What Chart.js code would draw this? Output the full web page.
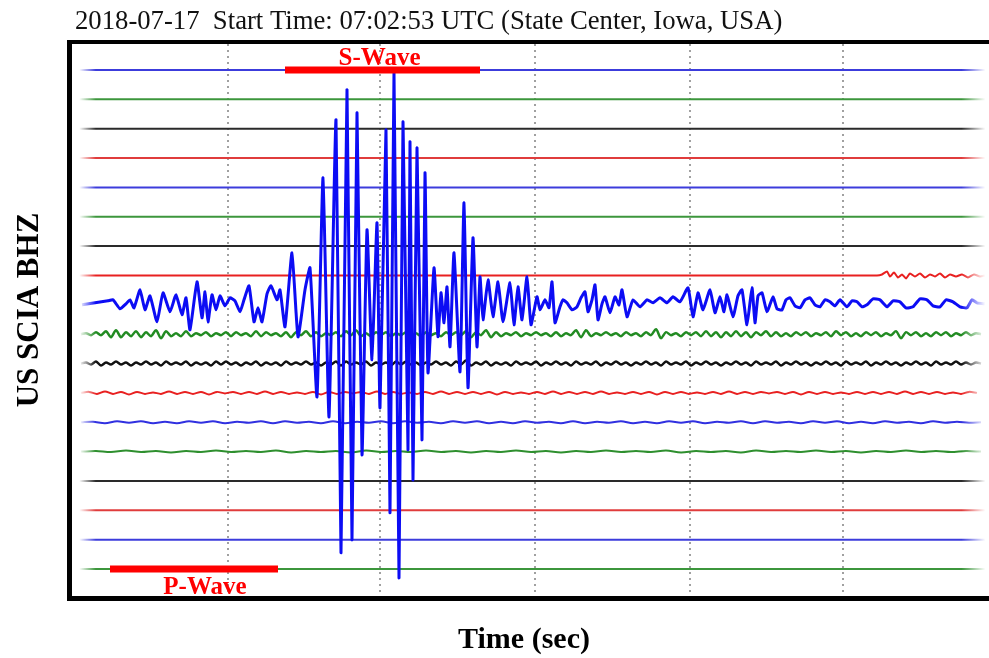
<!DOCTYPE html>
<html>
<head>
<meta charset="utf-8">
<script src="https://cdn.jsdelivr.net/npm/chart.js@4/dist/chart.umd.min.js"></script>
<style>
  html, body { margin: 0; padding: 0; background: #fff; }
  #wrap { width: 989px; height: 658px; }
</style>
</head>
<body>
<div id="wrap"><canvas id="seis" width="989" height="658"></canvas></div>
<script>
// trace spacing, in amplitude units (one unit ~ one pixel)
const GAP = 29.35;
const TRACE_COUNT = 18;

const titleText = '2018-07-17  Start Time: 07:02:53 UTC (State Center, Iowa, USA)';
const stationLabel = 'US SCIA BHZ';
const timeLabel = 'Time (sec)';

// dotted time marks
const gridTimes = [156, 308, 463, 618, 771];

// phase picks: [start, end]
const sWave = [213, 408];
const pWave = [38, 206];

// main BHZ trace (row 8), [time, amplitude]
const mainTrace = [
	[10, 0], [23, 2], [36, 4], [41, 5], [48, -4], [54, 1], [58, 5], [62, -3], [68, 15], [73, -5],
	[78, 9], [85, -17], [91, 12], [98, -7], [104, 10], [110, -10], [114, 7], [118, -25], [125, 23], [130, -13],
	[133, 13], [136, -17], [140, 10], [144, -5], [148, 9], [153, -1], [158, 7], [163, 4], [168, -7], [172, 5],
	[177, 19], [182, -17], [186, -3], [190, -17], [195, 11], [199, 19], [205, 5], [208, 15], [213, -22], [220, 52],
	[226, -32], [233, 15], [238, 37], [245, -92], [251, 127], [257, -112], [264, 185], [269, -248], [275, 215], [280, -235],
	[285, 192], [290, -150], [295, 75], [300, -55], [305, 82], [308, -103], [314, 175], [318, -208], [322, 232], [327, -273],
	[331, 183], [336, -145], [338, 163], [341, -175], [345, 157], [350, -135], [353, 132], [356, -68], [362, 37], [366, -32],
	[369, 12], [372, -18], [375, 18], [378, -42], [382, 52], [388, -67], [392, 102], [396, -83], [401, 67], [405, -42],
	[408, 28], [411, -15], [416, 25], [421, -12], [426, 23], [431, -17], [438, 22], [442, -20], [446, 18], [450, -15],
	[455, 28], [459, -20], [465, 8], [468, -5], [473, 5], [477, -3], [480, 23], [483, -18], [488, -2], [491, 5],
	[495, 2], [500, -5], [505, -2], [509, 7], [513, 13], [516, -7], [520, 5], [523, 20], [526, -15], [530, 1],
	[533, 8], [538, -8], [543, 8], [547, 0], [550, 15], [555, -12], [561, 5], [568, -2], [575, 5], [581, 2],
	[588, 7], [595, 2], [601, 8], [608, 3], [616, 17], [621, -12], [626, 12], [631, -5], [638, 15], [643, -8],
	[648, 8], [652, -7], [655, 10], [661, -12], [666, 9], [670, 15], [675, -20], [680, 17], [683, -18], [686, 9],
	[690, 12], [695, -7], [701, 8], [705, -4], [710, -5], [714, 5], [718, 7], [723, -1], [728, -3], [733, 5],
	[738, 7], [743, 0], [748, -2], [753, 5], [758, 3], [763, -1], [768, 5], [775, -2], [780, 4], [785, 3],
	[790, -2], [795, 0], [801, 6], [808, 5], [815, -2], [821, 4], [828, 3], [834, -3], [841, -2], [848, 6],
	[855, 5], [861, -1], [868, -2], [874, 5], [881, 3], [888, -2], [895, -3], [900, 5], [905, 2], [913, 1]
];

// red row 7: flat, then noise near the end
const redTail = [
	[6, 0], [805, 0], [810, 1], [815, 4], [818, -1], [822, 3], [826, -2], [830, 1], [834, -3], [838, 2],
	[843, -1], [848, 2], [853, -2], [858, 1], [863, -1], [868, 2], [873, -2], [878, 1], [884, -1], [890, 1],
	[896, -2], [902, 1], [908, -1], [913, 0]
];

// noise rows, sampled every 5 (green, black), 8 (red), 12 (blue), 15 (green)
const greenNoise = [
	0, 1, -1, 2, -1, 3, -3, 4, -3, 2, -2, 3, -3, 2, -2, 4, -4, 3, -2, 1,
	-2, 3, -2, 1, -1, 2, -2, 1, -1, 2, -2, 2, -1, 1, -2, 3, -2, 2, -1, 1,
	-2, 2, -3, 2, -1, 3, -2, 2, -2, 1, -1, 2, -2, 3, -1, 4, -2, 1, -2, 2,
	-1, 2, -2, 1, -1, 2, -2, 1, -2, 2, -1, 1, -2, 2, -1, 2, -1, 3, -3, 2,
	-1, 4, -3, 2, -2, 1, -1, 2, -2, 1, -1, 2, -1, 1, -2, 2, -2, 1, -1, 4,
	-3, 4, -2, 1, -1, 2, -1, 1, -2, 2, -1, 1, -2, 2, -1, 5, -4, 2, -1, 1,
	-2, 2, -1, 2, -2, 3, -2, 2, -3, 2, -2, 3, -2, 2, -3, 2, -1, 3, -2, 2,
	-2, 1, -2, 2, -1, 2, -2, 1, -1, 2, -2, 3, -1, 2, -2, 1, -2, 2, -1, 2,
	-2, 1, -1, 3, -4, 2, -1, 2, -2, 1, -2, 2, -1, 2, -2, 1, -1, 2, -1, 1, 0
];
const blackNoise = [
	0, 1, -1, 2, -2, 1, -1, 2, -1, 1, -2, 1, -1, 2, -1, 1, -2, 2, -1, 1,
	-1, 2, -2, 1, -1, 1, -2, 2, -1, 2, -1, 1, -2, 1, -1, 2, -2, 1, -1, 1,
	-2, 2, -1, 1, -1, 2, -1, 1, -2, 1, -1, 2, -2, 2, -1, 1, -1, 2, -2, 1,
	-1, 1, -2, 2, -1, 2, -1, 1, -2, 1, -1, 2, -1, 1, -2, 2, -1, 3, -2, 1,
	-1, 2, -2, 1, -1, 1, -2, 2, -1, 1, -1, 2, -2, 1, -1, 2, -1, 1, -2, 2,
	-1, 1, -1, 2, -2, 1, -1, 2, -1, 1, -2, 1, -1, 2, -1, 1, -2, 2, -1, 1,
	-1, 2, -2, 1, -1, 2, -1, 1, -2, 1, -1, 2, -1, 1, -2, 2, -1, 1, -1, 2,
	-2, 1, -1, 2, -1, 1, -2, 1, -1, 2, -1, 1, -2, 2, -1, 1, -1, 2, -2, 1,
	-1, 2, -1, 1, -2, 1, -1, 2, -1, 1, -2, 2, -1, 1, -1, 2, -1, 1, -1, 1, 0
];
const redNoise = [
	0, 1, -1, 1.5, -1, 1, -1.5, 1, -1, 0.5, -1, 1.5, -1, 1, -1, 1, -1.5, 1, -0.5, 1,
	-1, 1, -1, 1.5, -1, 1, -1, 0.5, -1, 1, -1.5, 1, -1, 1, -0.5, 1, -1, 1.5, -1, 1,
	-1, 0.5, -1, 1, -1, 1.5, -1, 1, -1, 1, -1, 1, -1.5, 1, -1, 0.5, -1, 1, -1, 1.5,
	-1, 1, -1, 1, -1, 1.5, -1, 0.5, -1, 1, -1, 1, -1.5, 1, -1, 1, -1, 0.5, -1, 1,
	-1, 1.5, -1, 1, -1, 1, -0.5, 1, -1, 1, -1.5, 1, -1, 1, -1, 0.5, -1, 1, -1, 1,
	-1, 1, -1, 1.5, -1, 1, -1, 1, -1, 0.5, -1, 1, 0
];
const blueNoise = [
	0, 0.5, -1, 1, -0.5, 1, -1, 0.5, -1, 1, -0.5, 1, -1, 0.5, -0.5, 1, -1, 1, -0.5, 0.5,
	-1, 1, -1, 0.5, -0.5, 1, -1, 1, -0.5, 0.5, -1, 1, -0.5, 1, -1, 0.5, -1, 1, -0.5, 0.5,
	-1, 1, -1, 0.5, -0.5, 1, -1, 0.5, -1, 1, -0.5, 1, -1, 0.5, -0.5, 1, -1, 1, -0.5, 0.5,
	-1, 1, -0.5, 1, -1, 0.5, -1, 1, -0.5, 0.5, -1, 1, -0.5, 0.5, -0.5, 0
];
const greenSmall = [
	0, 0.5, -0.5, 1, -0.5, 0.5, -1, 0.5, -0.5, 1, -0.5, 0.5, -0.5, 1, -1, 0.5, -0.5, 0.5, -1, 1,
	-0.5, 0.5, -0.5, 1, -0.5, 0.5, -1, 0.5, -0.5, 1, -0.5, 0.5, -1, 0.5, -0.5, 1, -0.5, 0.5, -0.5, 1,
	-1, 0.5, -0.5, 0.5, -1, 1, -0.5, 0.5, -0.5, 1, -0.5, 0.5, -1, 0.5, -0.5, 1, -0.5, 0.5, -0.5, 0.5, 0
];

const rowColors = ['#3c3cdc', '#3c963c', '#2a2a2a', '#e03c3c'];

function rowBase(row) {
	return (TRACE_COUNT - 1 - row) * GAP;
}

function fadeStroke(hex) {
	return (c) => {
		const area = c.chart.chartArea;
		if (!area) return hex;
		const g = c.chart.ctx.createLinearGradient(area.left, 0, area.right, 0);
		g.addColorStop(0, hex + '00');
		g.addColorStop(0.008, hex + '00');
		g.addColorStop(0.026, hex);
		g.addColorStop(0.97, hex);
		g.addColorStop(0.996, hex + '00');
		g.addColorStop(1, hex + '00');
		return g;
	};
}

function pairsData(row, pairs) {
	const base = rowBase(row);
	return pairs.map(([t, a]) => ({ x: t, y: base + a }));
}

function sampledData(row, start, step, amps) {
	const base = rowBase(row);
	return amps.map((a, i) => ({ x: start + step * i, y: base + a }));
}

function traceSet(data, color, width, tension, order) {
	return {
		data,
		borderColor: fadeStroke(color),
		borderWidth: width,
		pointRadius: 0,
		tension,
		order,
		fill: false,
	};
}

const datasets = [];

for (let row = 0; row < TRACE_COUNT; row++) {
	const color = rowColors[row % 4];
	if (row === 7) {
		datasets.push(traceSet(pairsData(row, redTail), '#e82020', 2, 0.2, 5));
	} else if (row === 8) {
		datasets.push(traceSet(pairsData(row, mainTrace), '#0c0cf4', 3, 0.15, 1));
	} else if (row === 9) {
		datasets.push(traceSet(sampledData(row, 9, 5, greenNoise), '#228b22', 2.5, 0.3, 3));
	} else if (row === 10) {
		datasets.push(traceSet(sampledData(row, 9, 5, blackNoise), '#111111', 2.5, 0.3, 4));
	} else if (row === 11) {
		datasets.push(traceSet(sampledData(row, 9, 8, redNoise), '#e82020', 2, 0.3, 5));
	} else if (row === 12) {
		datasets.push(traceSet(sampledData(row, 9, 12, blueNoise), '#3030e0', 2, 0.3, 5));
	} else if (row === 13) {
		datasets.push(traceSet(sampledData(row, 9, 15, greenSmall), '#2e8f2e', 2, 0.3, 5));
	} else {
		datasets.push(traceSet(pairsData(row, [[6, 0], [914, 0]]), color, 2, 0, 6));
	}
}

// phase bars
datasets.push({
	data: pairsData(0, [[sWave[0], 0], [sWave[1], 0]]),
	borderColor: '#ff0000', borderWidth: 7, pointRadius: 0, order: 0, borderCapStyle: 'butt',
});
datasets.push({
	data: pairsData(TRACE_COUNT - 1, [[pWave[0], 0], [pWave[1], 0]]),
	borderColor: '#ff0000', borderWidth: 7, pointRadius: 0, order: 0, borderCapStyle: 'butt',
});

const framePlugin = {
	id: 'frame',
	afterDraw(chart) {
		const { ctx, chartArea: a, scales } = chart;
		ctx.save();
		// thick box
		ctx.fillStyle = '#000';
		ctx.fillRect(67, a.top - 4, a.right - 67, 4);
		ctx.fillRect(67, a.top - 4, a.left - 67, a.bottom - a.top + 9);
		ctx.fillRect(67, a.bottom, a.right - 67, 5);

		ctx.fillStyle = '#111';
		ctx.font = '26.7px "Liberation Serif", "Times New Roman", serif';
		ctx.textAlign = 'left';
		ctx.textBaseline = 'alphabetic';
		ctx.fillText(titleText, 75, 29);

		ctx.fillStyle = '#ff0000';
		ctx.font = 'bold 25px "Liberation Serif", "Times New Roman", serif';
		ctx.textAlign = 'center';
		const sx = scales.x.getPixelForValue((sWave[0] + sWave[1]) / 2);
		const sy = scales.y.getPixelForValue(rowBase(0));
		ctx.fillText('S-Wave', sx - 3, sy - 5);
		const px = scales.x.getPixelForValue((pWave[0] + pWave[1]) / 2);
		const py = scales.y.getPixelForValue(rowBase(TRACE_COUNT - 1));
		ctx.fillText('P-Wave', px + 11, py + 25);

		ctx.fillStyle = '#000';
		ctx.font = 'bold 30px "Liberation Serif", "Times New Roman", serif';
		ctx.textBaseline = 'middle';
		ctx.fillText(timeLabel, 524, 640);

		ctx.translate(30, 310);
		ctx.rotate(-Math.PI / 2);
		ctx.font = 'bold 31px "Liberation Serif", "Times New Roman", serif';
		ctx.fillText(stationLabel, 0, 0);
		ctx.restore();
	}
};

new Chart(document.getElementById('seis'), {
	type: 'line',
	data: { datasets },
	options: {
		responsive: false,
		animation: false,
		devicePixelRatio: 1,
		layout: { padding: { left: 72, top: 44, right: 0, bottom: 62 } },
		scales: {
			x: {
				type: 'linear',
				min: 0,
				max: 917,
				afterBuildTicks: (scale) => {
					scale.ticks = gridTimes.map(v => ({ value: v }));
				},
				ticks: { display: false },
				grid: { color: '#a0a0a0', lineWidth: 2, drawTicks: false },
				border: { display: false, dash: [2, 4] },
			},
			y: {
				type: 'linear',
				display: false,
				min: -27,
				max: (TRACE_COUNT - 1) * GAP + 26,
			}
		},
		plugins: {
			legend: { display: false },
			tooltip: { enabled: false },
		}
	},
	plugins: [framePlugin]
});
</script>
</body>
</html>
